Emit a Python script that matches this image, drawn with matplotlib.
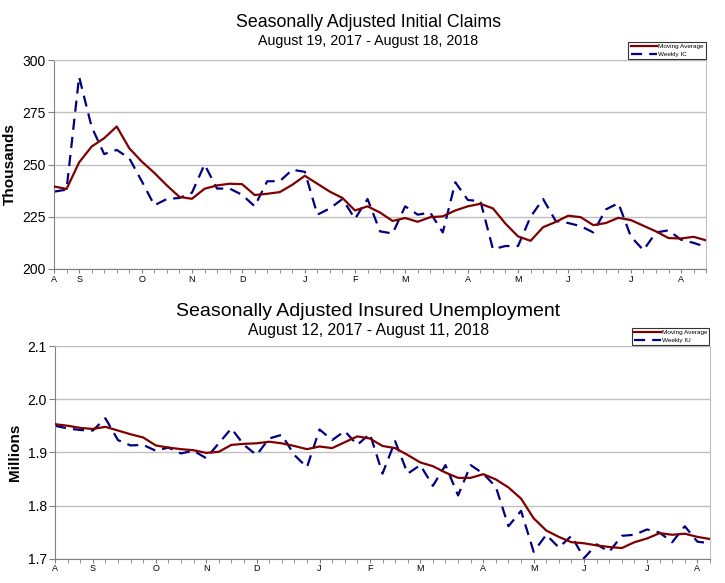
import numpy as np
import matplotlib.pyplot as plt
from matplotlib.ticker import FixedLocator, MultipleLocator

plt.rcParams['font.family'] = ['Liberation Sans', 'DejaVu Sans']

# ---------------- data ----------------
# Initial claims, weeks Aug 19, 2017 .. Aug 18, 2018 (thousands)
ic_weekly = [237, 238, 292, 268, 255, 257, 253, 242, 230.5, 233.5, 234, 236.5,
             250, 238.5, 238.5, 235.5, 230, 242, 242, 247.5, 246.5, 226, 229,
             233.5, 224, 233.5, 218, 217, 230, 226, 227, 217.5, 241.5, 233,
             232.5, 209.5, 211, 211, 225, 233.5, 223, 222, 220.5, 217.5, 228.5,
             231.5, 215.5, 209, 217.5, 218.5, 214, 212.5, 210.5]
ic_avg = [239.5, 238.3, 251, 258.6, 262.6, 268.2, 257.8, 251.4, 246, 240,
          234.5, 233.6, 238.4, 240, 240.8, 240.6, 235.4, 236, 236.8, 240.3,
          244.6, 240.8, 237, 234, 228, 230, 227, 223, 224.4, 222.6, 224.8,
          225.2, 228, 230, 231.2, 229, 221.7, 215.6, 213.5, 220, 222.5, 225.5,
          224.8, 221, 222, 224.5, 223.4, 220.7, 218, 214.8, 214.6, 215.4, 213.7]
ic_month_idx = [0, 2, 7, 11, 15, 20, 24, 28, 33, 37, 41, 46, 50]

# Insured unemployment, weeks Aug 12, 2017 .. Aug 11, 2018 (millions)
iu_weekly = [1.950, 1.945, 1.942, 1.941, 1.964, 1.923, 1.913, 1.914, 1.903,
             1.909, 1.898, 1.903, 1.889, 1.917, 1.945, 1.914, 1.895, 1.926,
             1.933, 1.895, 1.872, 1.943, 1.923, 1.940, 1.914, 1.935, 1.860,
             1.921, 1.860, 1.876, 1.837, 1.876, 1.819, 1.876, 1.860, 1.835,
             1.761, 1.790, 1.713, 1.745, 1.721, 1.743, 1.701, 1.727, 1.713,
             1.743, 1.745, 1.755, 1.749, 1.731, 1.761, 1.732, 1.729]
iu_avg = [1.953, 1.950, 1.946, 1.944, 1.948, 1.941, 1.934, 1.928, 1.913, 1.909,
          1.906, 1.904, 1.899, 1.901, 1.914, 1.916, 1.917, 1.920, 1.917, 1.912,
          1.906, 1.911, 1.908, 1.919, 1.930, 1.926, 1.912, 1.908, 1.895, 1.881,
          1.874, 1.862, 1.852, 1.852, 1.859, 1.849, 1.834, 1.813, 1.776, 1.753,
          1.741, 1.731, 1.729, 1.725, 1.722, 1.720, 1.731, 1.738, 1.748, 1.745,
          1.747, 1.741, 1.737]
iu_month_idx = [0, 3, 8, 12, 16, 21, 25, 29, 34, 38, 42, 47, 51]

month_labels = ["A", "S", "O", "N", "D", "J", "F", "M", "A", "M", "J", "J", "A"]

RED = "#7f0000"
BLUE = "#000080"
GRID = "#c0c0c0"


def draw_panel(ax, weekly, avg, month_idx, ylim, ystep, yfmt, ylabel, wlabel):
    x = np.arange(len(weekly))
    ax.plot(x, avg, color=RED, lw=1.6, label="Moving Average", zorder=3)
    ax.plot(x, weekly, color=BLUE, lw=1.6, dashes=(5, 3.2), label=wlabel, zorder=2)

    ax.set_xlim(0, len(weekly) - 1)
    ax.set_ylim(*ylim)
    ax.yaxis.set_major_locator(MultipleLocator(ystep))
    ax.set_yticklabels([yfmt.format(v) for v in ax.get_yticks()])
    ax.yaxis.grid(True, color=GRID, lw=1)
    ax.tick_params(axis='y', length=4, labelsize=10, color="#808080", pad=2)

    ax.xaxis.set_major_locator(FixedLocator(month_idx))
    ax.xaxis.set_minor_locator(MultipleLocator(1))
    ax.set_xticklabels(month_labels)
    ax.tick_params(axis='x', which='both', length=3, color="#808080",
                   labelsize=6.5, pad=1)
    ax.set_ylabel(ylabel, fontsize=11, fontweight='bold', labelpad=4)

    for side in ["top", "right"]:
        ax.spines[side].set_color(GRID)
    for side in ["left", "bottom"]:
        ax.spines[side].set_color("#808080")

    leg = ax.legend(loc="lower right", bbox_to_anchor=(1.0, 1.0), fontsize=4.6,
                    frameon=True, fancybox=False, handlelength=4.2,
                    handletextpad=0.05, borderpad=0.35, labelspacing=0.35,
                    borderaxespad=0.1)
    leg.get_frame().set_edgecolor("black")
    leg.get_frame().set_linewidth(0.8)


fig = plt.figure(figsize=(7.25, 5.83), dpi=100)

ax1 = fig.add_axes([0.0745, 0.5386, 0.8995, 0.3584])
draw_panel(ax1, ic_weekly, ic_avg, ic_month_idx, (200, 300), 25, "{:.0f}",
           "Thousands", "Weekly IC")

ax2 = fig.add_axes([0.0759, 0.0417, 0.9034, 0.3648])
draw_panel(ax2, iu_weekly, iu_avg, iu_month_idx, (1.7, 2.1), 0.1, "{:.1f}",
           "Millions", "Weekly IU")

fig.text(0.508, 0.961, "Seasonally Adjusted Initial Claims", ha="center",
         va="center", fontsize=12.75)
fig.text(0.508, 0.929, "August 19, 2017 - August 18, 2018", ha="center",
         va="center", fontsize=10.3)
fig.text(0.508, 0.466, "Seasonally Adjusted Insured Unemployment", ha="center",
         va="center", fontsize=14)
fig.text(0.508, 0.433, "August 12, 2017 - August 11, 2018", ha="center",
         va="center", fontsize=11.3)

fig.savefig("out.png", dpi=100)
